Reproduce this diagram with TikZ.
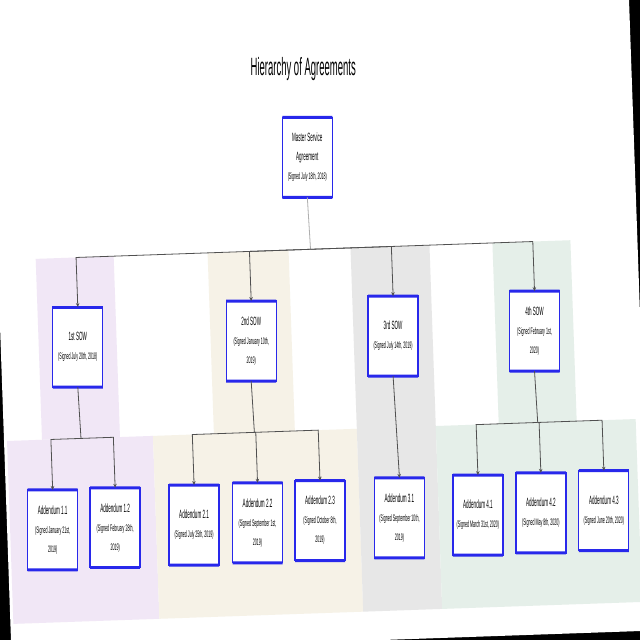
\documentclass[tikz,border=0pt]{standalone}
\usepackage{fontspec}
\setmainfont[FakeStretch=0.38]{Liberation Sans}
\usetikzlibrary{arrows.meta}
\definecolor{bblue}{RGB}{40,40,235}
\definecolor{bandP}{RGB}{241,231,246}
\definecolor{bandB}{RGB}{246,242,231}
\definecolor{bandG}{RGB}{231,231,231}
\definecolor{bandT}{RGB}{229,239,233}
\definecolor{conn}{RGB}{80,80,80}
\definecolor{lconn}{RGB}{175,175,175}
\newcommand{\hd}[1]{{\fontsize{12}{19}\selectfont #1}}
\begin{document}
\begin{tikzpicture}[x=1pt,y=-1pt,
  box/.style={draw=bblue, fill=white, line width=1.3pt, minimum width=50pt,
    minimum height=80pt, inner sep=0pt, outer sep=0pt, align=center,
    font=\fontsize{9.5}{19}\selectfont},
  topline/.style={draw=bblue, line width=3pt},
  ln/.style={draw=conn, line width=0.8pt},
  lt/.style={draw=lconn, line width=0.8pt},
  arr/.style={ln, -{Stealth[length=4pt,width=3.5pt]}},
  band/.style={draw=none}]
\useasboundingbox (0,0) rectangle (640,640);
\fill[black] (0,0) rectangle (640,640);
\begin{scope}[rotate around={2:(320,320)}]
\fill[white] (0,-40) rectangle (640,642);
% background bands
\fill[bandP] (38,249) rectangle (116,430);
\fill[bandP] (3,430) rectangle (149,613);
\fill[bandB] (210,249) rectangle (291,430);
\fill[bandB] (149,430) rectangle (353,613);
\fill[bandG] (353,249) rectangle (432,613);
\fill[bandT] (495,249) rectangle (573,430);
\fill[bandT] (432,430) rectangle (632,613);
% title
\node (title) at (312,69) {\fontsize{25}{30}\selectfont Hierarchy of Agreements};
% nodes
\node[box] (m) at (313,157) {\hd{Master Service}\\\hd{Agreement}\\(Signed July 18th, 2018)};
\node[box] (s1) at (77,338.6) {\hd{1st SOW}\\(Signed July 20th, 2018)};
\node[box] (s2) at (250.5,338.6) {\hd{2nd SOW}\\(Signed January 10th,\\2019)};
\node[box] (s3) at (392.5,338.6) {\hd{3rd SOW}\\(Signed July 14th, 2019)};
\node[box] (s4) at (534,338.6) {\hd{4th SOW}\\(Signed February 1st,\\2020)};
\node[box] (a11) at (45.5,520.5) {\hd{Addendum 1.1}\\(Signed January 21st,\\2019)};
\node[box] (a12) at (108,520.5) {\hd{Addendum 1.2}\\(Signed February 28th,\\2019)};
\node[box] (a21) at (187,520.5) {\hd{Addendum 2.1}\\(Signed July 25th, 2019)};
\node[box] (a22) at (250.5,520.5) {\hd{Addendum 2.2}\\(Signed September 1st,\\2019)};
\node[box] (a23) at (313,520.5) {\hd{Addendum 2.3}\\(Signed October 8th,\\2019)};
\node[box] (a31) at (392.5,520.5) {\hd{Addendum 3.1}\\(Signed September 10th,\\2019)};
\node[box] (a41) at (471,520.5) {\hd{Addendum 4.1}\\(Signed March 31st, 2020)};
\node[box] (a42) at (534,520.5) {\hd{Addendum 4.2}\\(Signed May 8th, 2020)};
\node[box] (a43) at (597,520.5) {\hd{Addendum 4.3}\\(Signed June 20th, 2020)};
\foreach \n in {m,s1,s2,s3,s4,a11,a12,a21,a22,a23,a31,a41,a42,a43}{
  \draw[topline] (\n.north west) -- (\n.north east);
  \draw[topline] (\n.south west) -- (\n.south east);
}
% connectors
\coordinate (b0) at (313,249);
\draw[lt] (m.south) -- (b0);
\foreach \s in {s1,s2,s3,s4} \draw[arr] (b0) -| (\s.north);
\coordinate (b1) at (77,430);
\draw[ln] (s1.south) -- (b1);
\foreach \a in {a11,a12} \draw[arr] (b1) -| (\a.north);
\coordinate (b2) at (250.5,430);
\draw[ln] (s2.south) -- (b2);
\foreach \a in {a21,a22,a23} \draw[arr] (b2) -| (\a.north);
\draw[arr] (s3.south) -- (a31.north);
\coordinate (b4) at (534,430);
\draw[ln] (s4.south) -- (b4);
\foreach \a in {a41,a42,a43} \draw[arr] (b4) -| (\a.north);
\end{scope}
\end{tikzpicture}
\end{document}
